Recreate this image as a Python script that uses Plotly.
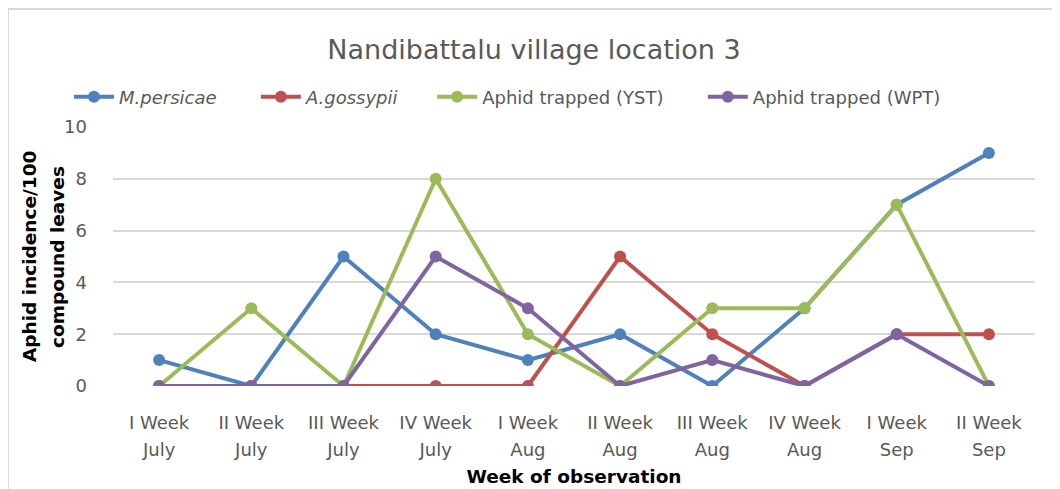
import plotly.graph_objects as go

week_labels = ["I Week", "II Week", "III Week", "IV Week",
               "I Week", "II Week", "III Week", "IV Week",
               "I Week", "II Week"]
month_labels = ["July", "July", "July", "July", "Aug", "Aug", "Aug", "Aug", "Sep", "Sep"]
m_persicae = [1, 0, 5, 2, 1, 2, 0, 3, 7, 9]
a_gossypii = [0, 0, 0, 0, 0, 5, 2, 0, 2, 2]
yst = [0, 3, 0, 8, 2, 0, 3, 3, 7, 0]
wpt = [0, 0, 0, 5, 3, 0, 1, 0, 2, 0]

NB = "&nbsp;"
series = [
    ("<i>M.persicae</i>" + NB * 6, m_persicae, "#4F81BD"),
    ("<i>A.gossypii</i>" + NB * 5, a_gossypii, "#C0504D"),
    ("Aphid trapped (YST)" + NB * 6, yst, "#9BBB59"),
    ("Aphid trapped (WPT)", wpt, "#8064A2"),
]

FONT = "DejaVu Sans"
GRAY = "#595959"
pos = list(range(len(week_labels)))

# page body has an 8px margin; figure sized to fit the 1060x489 window
W, H = 1052, 481
L, R, T, B = 105, 25, 119, 103
PW, PH = W - L - R, H - T - B


def px(xf):
    return (xf - L) / PW


def py(yf):
    return (H - B - yf) / PH


fig = go.Figure()
for name, vals, col in series:
    fig.add_trace(go.Scatter(
        x=pos, y=vals, name=name, mode="lines+markers",
        line=dict(color=col, width=4), marker=dict(color=col, size=12),
    ))
# invisible carrier trace for the month row axis
fig.add_trace(go.Scatter(x=pos, y=m_persicae, xaxis="x2", mode="markers",
                         marker=dict(opacity=0), showlegend=False, hoverinfo="skip"))

fig.update_layout(
    width=W, height=H,
    paper_bgcolor="white", plot_bgcolor="white",
    margin=dict(l=L, r=R, t=T, b=B, autoexpand=False),
    font=dict(family=FONT, color=GRAY, size=18),
    title=dict(text="Nandibattalu village location 3", x=526 / W, xanchor="center",
               y=1 - 42 / H, yanchor="middle",
               font=dict(family=FONT, size=27, color=GRAY)),
    legend=dict(orientation="h", x=px(61), y=py(89),
                yanchor="middle", xanchor="left", font=dict(family=FONT, size=18, color=GRAY),
                itemwidth=40, bgcolor="rgba(0,0,0,0)", traceorder="normal"),
    xaxis=dict(range=[-0.5, 9.5], tickmode="array", tickvals=pos,
               ticktext=week_labels, showgrid=False, zeroline=False, showline=False,
               ticks="", ticklabelstandoff=24, automargin=False),
    xaxis2=dict(range=[-0.5, 9.5], matches="x", overlaying="x", anchor="y", side="bottom",
                tickmode="array", tickvals=pos, ticktext=month_labels,
                showgrid=False, zeroline=False, showline=False, ticks="",
                ticklabelstandoff=51, automargin=False,
                title=dict(text="<b>Week of observation</b>", standoff=11,
                           font=dict(family=FONT, size=18.5, color="black"))),
    yaxis=dict(range=[0, 10], dtick=2, showgrid=True, gridcolor="#D9D9D9", gridwidth=1.5,
               zeroline=False, showline=False, ticks="", ticklabelstandoff=25,
               automargin=False),
    showlegend=True,
)

for txt, xf in [("<b>Aphid incidence/100</b>", 21), ("<b>compound leaves</b>", 49)]:
    fig.add_annotation(text=txt, xref="paper", yref="paper", x=px(xf), y=py(249),
                       textangle=-90, showarrow=False, xanchor="center", yanchor="middle",
                       font=dict(family=FONT, size=18.5, color="black"))

fig.add_shape(type="rect", xref="paper", yref="paper",
              x0=px(0), x1=px(1047), y0=-0.6, y1=py(1),
              line=dict(color="#D9D9D9", width=2), fillcolor="rgba(0,0,0,0)", layer="below")

fig.write_html("out.html")
